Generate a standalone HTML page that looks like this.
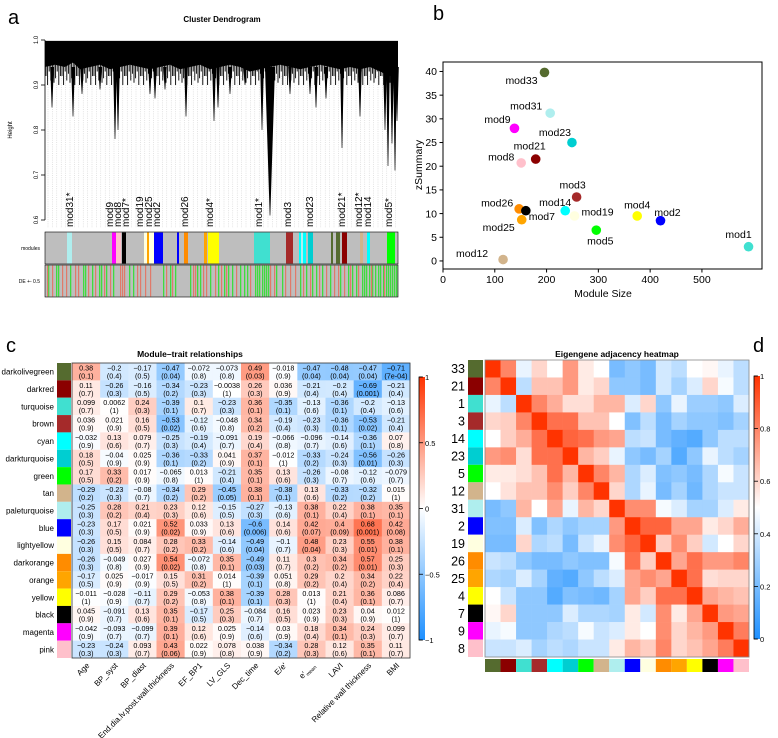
<!DOCTYPE html>
<html><head><meta charset="utf-8"><style>
body{margin:0;background:#fff}
svg{display:block;font-family:"Liberation Sans","DejaVu Sans",sans-serif}
</style></head><body>
<svg id="fig" width="778" height="738" viewBox="0 0 778 738" xmlns="http://www.w3.org/2000/svg">
<rect width="778" height="738" fill="#fff"/>
<text x="8" y="24" font-size="20">a</text>
<text x="433" y="20" font-size="20">b</text>
<text x="6" y="352" font-size="20">c</text>
<text x="753" y="352" font-size="20">d</text>
<g id="pa"></g>
<g id="pb"></g>
<g id="pc"></g>
<g id="pd"></g>
</svg>
<script>
// ---------- Panel b data ----------
const modNames=["mod33","mod31","mod9","mod23","mod21","mod8","mod3","mod26","mod7","mod14","mod19","mod4","mod2","mod25","mod5","mod1","mod12"];
const modSizes=[196,207,138,249,179,151,258,147,160,236,254,375,420,152,296,590,116];
const zSummary=[39.8,31.2,28,25,21.5,20.7,13.5,11,10.6,10.6,9.5,9.5,8.5,8.7,6.5,3,0.3];
const modColors=["#556B2F","#AFEEEE","#FF00FF","#00CED1","#8B0000","#FFC0CB","#A52A2A","#FF8C00","#000000","#00FFFF","#FFFFE0","#FFFF00","#0000FF","#FFA500","#00FF00","#40E0D0","#D2B48C"];
const xTicksB=[0,100,200,300,400,500];
const yTicksB=[0,5,10,15,20,25,30,35,40];
// ---------- Panel c data ----------
const cRows=["darkolivegreen","darkred","turquoise","brown","cyan","darkturquoise","green","tan","paleturquoise","blue","lightyellow","darkorange","orange","yellow","black","magenta","pink"];
const cRowColors=["#556B2F","#8B0000","#40E0D0","#A52A2A","#00FFFF","#00CED1","#00FF00","#D2B48C","#AFEEEE","#0000FF","#FFFFE0","#FF8C00","#FFA500","#FFFF00","#000000","#FF00FF","#FFC0CB"];
const traits=["Age","BP_syst","BP_diast","End.dia.lv.post.wall.thickness","EF_BP1","LV_GLS","Dec_time","E/e'","e'mean","LAVI","Relative wall thickness","BMI"];
const corVals=[
[0.38,-0.2,-0.17,-0.47,-0.072,-0.073,0.49,-0.018,-0.47,-0.48,-0.47,-0.71],
[0.11,-0.26,-0.16,-0.34,-0.23,-0.0038,0.26,0.036,-0.21,-0.2,-0.69,-0.21],
[0.099,0.0062,0.24,-0.39,0.1,-0.23,0.36,-0.35,-0.13,-0.36,-0.2,-0.13],
[0.036,0.021,0.16,-0.53,-0.12,-0.048,0.34,-0.19,-0.23,-0.36,-0.53,-0.21],
[-0.032,0.13,0.079,-0.25,-0.19,-0.091,0.19,-0.066,-0.096,-0.14,-0.36,0.07],
[0.18,-0.04,0.025,-0.36,-0.33,0.041,0.37,-0.012,-0.33,-0.24,-0.56,-0.26],
[0.17,0.33,0.017,-0.065,0.013,-0.21,0.35,0.13,-0.26,-0.08,-0.12,-0.079],
[-0.29,-0.23,-0.08,-0.34,0.29,-0.45,0.38,-0.38,0.13,-0.33,-0.32,0.015],
[-0.25,0.28,0.21,0.23,0.12,-0.15,-0.27,-0.13,0.38,0.22,0.38,0.35],
[-0.23,0.17,0.021,0.52,0.033,0.13,-0.6,0.14,0.42,0.4,0.68,0.42],
[-0.26,0.15,0.084,0.28,0.33,-0.14,-0.49,-0.1,0.48,0.23,0.55,0.38],
[-0.26,-0.049,0.027,0.54,-0.072,0.35,-0.49,0.11,0.3,0.34,0.57,0.25],
[-0.17,0.025,-0.017,0.15,0.31,0.014,-0.39,0.051,0.29,0.2,0.34,0.22],
[-0.011,-0.028,-0.11,0.29,-0.053,0.38,-0.39,0.28,0.013,0.21,0.36,0.086],
[0.045,-0.091,0.13,0.35,-0.17,0.25,-0.084,0.16,0.023,0.23,0.04,0.012],
[-0.042,-0.093,-0.099,0.39,0.12,0.025,-0.14,0.03,0.18,0.34,0.24,0.099],
[-0.23,-0.24,0.093,0.43,0.022,0.078,0.038,-0.34,0.28,0.12,0.35,0.11]];
const pVals=[
["0.1","0.4","0.5","0.04","0.8","0.8","0.03","0.9","0.04","0.04","0.04","7e-04"],
["0.7","0.3","0.5","0.2","0.3","1","0.3","0.9","0.4","0.4","0.001","0.4"],
["0.7","1","0.3","0.1","0.7","0.3","0.1","0.1","0.6","0.1","0.4","0.6"],
["0.9","0.9","0.5","0.02","0.6","0.8","0.2","0.4","0.3","0.1","0.02","0.4"],
["0.9","0.6","0.7","0.3","0.4","0.7","0.4","0.8","0.7","0.6","0.1","0.8"],
["0.5","0.9","0.9","0.1","0.2","0.9","0.1","1","0.2","0.3","0.01","0.3"],
["0.5","0.2","0.9","0.8","1","0.4","0.1","0.6","0.3","0.7","0.6","0.7"],
["0.2","0.3","0.7","0.2","0.2","0.05","0.1","0.1","0.6","0.2","0.2","1"],
["0.3","0.2","0.4","0.3","0.6","0.5","0.3","0.6","0.1","0.4","0.1","0.1"],
["0.3","0.5","0.9","0.02","0.9","0.6","0.006","0.6","0.07","0.09","0.001","0.08"],
["0.3","0.5","0.7","0.2","0.2","0.6","0.04","0.7","0.04","0.3","0.01","0.1"],
["0.3","0.8","0.9","0.02","0.8","0.1","0.03","0.7","0.2","0.2","0.01","0.3"],
["0.5","0.9","0.9","0.5","0.2","1","0.1","0.8","0.2","0.4","0.2","0.4"],
["1","0.9","0.7","0.2","0.8","0.1","0.1","0.3","1","0.4","0.1","0.7"],
["0.9","0.7","0.6","0.1","0.5","0.3","0.7","0.5","0.9","0.3","0.9","1"],
["0.9","0.7","0.7","0.1","0.6","0.9","0.6","0.9","0.4","0.1","0.3","0.7"],
["0.3","0.3","0.7","0.06","0.9","0.8","0.9","0.2","0.3","0.6","0.1","0.7"]];
const cbTicksC=[1,0.5,0,-0.5,-1];
// ---------- Panel d data ----------
const dLabels=["33","21","1","3","14","23","5","12","31","2","19","26","25","4","7","9","8"];
const dColors=["#556B2F","#8B0000","#40E0D0","#A52A2A","#00FFFF","#00CED1","#00FF00","#D2B48C","#AFEEEE","#0000FF","#FFFFE0","#FF8C00","#FFA500","#FFFF00","#000000","#FF00FF","#FFC0CB"];
const adj=[
[1,0.8,0.45,0.6,0.5,0.75,0.55,0.5,0.2,0.25,0.2,0.4,0.35,0.5,0.52,0.45,0.35],
[0.8,1,0.35,0.65,0.65,0.75,0.55,0.6,0.25,0.25,0.2,0.4,0.3,0.42,0.6,0.48,0.35],
[0.45,0.35,1,0.8,0.7,0.58,0.58,0.68,0.68,0.42,0.6,0.25,0.45,0.28,0.28,0.25,0.42],
[0.6,0.62,0.8,1,0.85,0.85,0.65,0.65,0.5,0.22,0.35,0.2,0.3,0.25,0.25,0.22,0.3],
[0.5,0.62,0.7,0.85,1,0.88,0.85,0.75,0.72,0.35,0.38,0.2,0.15,0.12,0.25,0.35,0.35],
[0.75,0.78,0.58,0.85,0.85,1,0.68,0.62,0.45,0.25,0.2,0.3,0.12,0.25,0.45,0.35,0.3],
[0.55,0.55,0.58,0.65,0.85,0.68,1,0.8,0.68,0.32,0.42,0.22,0.25,0.2,0.32,0.48,0.38],
[0.5,0.57,0.65,0.65,0.78,0.62,0.8,1,0.6,0.32,0.45,0.2,0.3,0.18,0.32,0.38,0.38],
[0.2,0.25,0.68,0.5,0.72,0.45,0.68,0.6,1,0.78,0.78,0.48,0.42,0.3,0.3,0.42,0.55],
[0.22,0.22,0.42,0.22,0.32,0.25,0.3,0.3,0.75,1,0.88,0.88,0.72,0.72,0.55,0.6,0.7],
[0.2,0.2,0.6,0.32,0.35,0.2,0.38,0.45,0.78,0.88,1,0.62,0.78,0.62,0.4,0.5,0.6],
[0.38,0.35,0.25,0.2,0.2,0.25,0.22,0.22,0.48,0.85,0.62,1,0.72,0.85,0.75,0.75,0.8],
[0.32,0.3,0.42,0.3,0.15,0.12,0.25,0.35,0.42,0.72,0.78,0.72,1,0.85,0.58,0.6,0.6],
[0.5,0.38,0.25,0.25,0.12,0.22,0.2,0.18,0.3,0.72,0.62,0.85,0.85,1,0.72,0.68,0.65],
[0.52,0.6,0.25,0.25,0.25,0.42,0.32,0.32,0.3,0.55,0.4,0.78,0.55,0.72,1,0.75,0.72],
[0.45,0.48,0.25,0.25,0.32,0.35,0.48,0.38,0.42,0.55,0.5,0.78,0.6,0.68,0.75,1,0.82],
[0.38,0.38,0.42,0.3,0.35,0.32,0.38,0.38,0.55,0.68,0.62,0.8,0.6,0.65,0.72,0.82,1]];
const cbTicksD=[0,0.2,0.4,0.6,0.8,1];
// ---------- Panel a data ----------
const dendroX=[45,55,65,73,80,90,100,110,120,130,140,150,160,170,180,190,200,210,220,230,240,250,260,270,280,290,300,310,320,330,340,350,360,370,380,390,398];
const dendroH=[0.94,0.945,0.94,0.95,0.935,0.94,0.945,0.935,0.94,0.945,0.94,0.935,0.94,0.945,0.935,0.94,0.945,0.935,0.94,0.945,0.94,0.93,0.935,0.94,0.945,0.94,0.935,0.94,0.945,0.94,0.935,0.94,0.935,0.94,0.93,0.92,0.92];
const hairH=[0.92,0.9,0.93,0.91,0.925,0.905,0.915,0.93,0.9,0.92];
const spikeX=[52,73,82,100,115,118,150,155,165,186,214,218,230,245,262,270,272,290,310,316,326,342,360,385,388,392,395,397];
const spikeH=[0.85,0.83,0.88,0.89,0.78,0.8,0.88,0.87,0.89,0.83,0.82,0.85,0.88,0.9,0.8,0.61,0.81,0.88,0.88,0.85,0.87,0.76,0.83,0.8,0.72,0.77,0.71,0.82];
const hTicks=[1.0,0.9,0.8,0.7,0.6];
const modLabelText=["mod31*","mod9","mod8","mod7*","mod19","mod25","mod2","mod26","mod4*","mod1*","mod3","mod23","mod21*","mod12*","mod14","mod5*"];
const modLabelX=[70,110,118,126,140,149,157,185,210,259,288,310,342,359,368,389];
const stripeX0=[67,112,116,122,144,147,149,154,177,184,204,208,254,286,299,301,303,308,331,336,342,360,367,387];
const stripeX1=[72,116,121,126,147,149,154,163,179,188,207,219,270,293,301,303,306,313,333,340,347,363,370,395];
const stripeCol=["#AFEEEE","#FF00FF","#FFC0CB","#000000","#FFFFE0","#FFA500","#FFFFE0","#0000FF","#0000FF","#FF8C00","#FFA500","#FFFF00","#40E0D0","#A52A2A","#00FFFF","#AFEEEE","#00FFFF","#00CED1","#556B2F","#556B2F","#8B0000","#D2B48C","#00FFFF","#00FF00"];
const deGreen=[48,56,58,70,83,85,92,99,101,106,113,129,133,163,170,175,190,197,200,210,218,224,228,232,240,244,247,255,257,259,262,264,266,268,276,282,300,306,312,316,322,330,340,348,352,356,362,364,366,369,372,375,378,380,383,386,388,390,392,394,396];
const deRed=[47,52,62,66,75,78,88,95,104,110,120,122,124,137,140,145,150,166,172,193,195,203,206,215,221,226,236,250,270,274,285,290,295,303,310,319,326,334,338,344,350,358,371,384];

const NS="http://www.w3.org/2000/svg";
function mk(parent,tag,attrs,text){const e=document.createElementNS(NS,tag);for(const k in attrs)e.setAttribute(k,attrs[k]);if(text!==undefined)e.textContent=text;parent.appendChild(e);return e;}
function bwr(t){
  t=Math.max(0,Math.min(1,t));
  if(t<0.5){const f=(0.5-t)/0.5;return `rgb(${Math.round(255-f*(255-30))},${Math.round(255-f*(255-144))},255)`;}
  const f=(t-0.5)/0.5;return `rgb(255,${Math.round(255-f*(255-51))},${Math.round(255-f*255)})`;
}

// ---------- Panel a ----------
(function(){
  const g=document.getElementById('pa');
  const yH=h=>40+(1-h)/0.4*180;
  let t=mk(g,'text',{x:222,y:22,'font-size':8,'font-weight':'bold','text-anchor':'middle'},'Cluster Dendrogram');
  
  mk(g,'line',{x1:45,y1:yH(1),x2:45,y2:yH(0.6),stroke:'#000','stroke-width':0.8});
  hTicks.forEach(h=>{
    mk(g,'line',{x1:41,x2:45,y1:yH(h),y2:yH(h),stroke:'#000','stroke-width':0.8});
    const tx=mk(g,'text',{x:0,y:0,'font-size':6,'text-anchor':'middle',transform:`translate(38,${yH(h)}) rotate(-90)`},h.toFixed(1));
    
  });
  t=mk(g,'text',{x:0,y:0,'font-size':6,'text-anchor':'middle',transform:'translate(12,130) rotate(-90)'},'Height');
  
  for(let x=48;x<398;x+=4.4){mk(g,'line',{x1:x,x2:x,y1:yH(0.92),y2:228,stroke:'#b0b0b0','stroke-width':0.35,'stroke-dasharray':'1,1.2'});}
  let d=`M45,${yH(0.998)} L398,${yH(0.998)}`;
  for(let i=dendroX.length-1;i>=0;i--)d+=` L${dendroX[i]},${yH(dendroH[i])}`;
  d+='Z';
  const p=mk(g,'path',{d:d,fill:'#000'});
  
  let k=0;
  for(let x=46;x<397;x+=1.6){const h=hairH[k%hairH.length];k++;
    mk(g,'line',{x1:x,x2:x,y1:yH(0.95),y2:yH(h),stroke:'#000','stroke-width':0.9});}
  spikeX.forEach((x,i)=>{const w=spikeH[i]<0.7?5:1.8;
    const s=mk(g,'path',{d:`M${x-w},${yH(0.94)} L${x+w},${yH(0.94)} L${x+0.3},${yH(spikeH[i])} L${x-0.3},${yH(spikeH[i])}Z`,fill:'#000'});
    });
  modLabelText.forEach((s,i)=>{
    const tx=mk(g,'text',{x:0,y:0,'font-size':10,transform:`translate(${modLabelX[i]+3},227) rotate(-90)`},s);
    
  });
  const mb=mk(g,'rect',{x:45,y:232,width:353,height:32,fill:'#bebebe',stroke:'#000','stroke-width':0.6});
  
  stripeX0.forEach((x,i)=>{mk(g,'rect',{x:x,y:232.5,width:stripeX1[i]-x,height:31,fill:stripeCol[i]});});
  const db=mk(g,'rect',{x:45,y:265,width:353,height:32,fill:'#bebebe',stroke:'#000','stroke-width':0.6});
  
  deGreen.forEach(x=>mk(g,'rect',{x:x,y:265.5,width:1.3,height:31,fill:'#3fdc3f'}));
  deRed.forEach(x=>mk(g,'rect',{x:x,y:265.5,width:1.2,height:31,fill:'#e07a6a'}));
  t=mk(g,'text',{x:40,y:250,'font-size':5,'text-anchor':'end'},'modules');
  t=mk(g,'text',{x:40,y:283,'font-size':5,'text-anchor':'end'},'DE +- 0.5');
})();

// ---------- Panel b ----------
(function(){
  const g=document.getElementById('pb');
  const L=443,R=762,T=62,B=269,xmin=0,xmax=616,ymin=-1.7,ymax=42;
  const X=v=>L+(v-xmin)/(xmax-xmin)*(R-L), Y=v=>B-(v-ymin)/(ymax-ymin)*(B-T);
  const fr=mk(g,'rect',{x:L,y:T,width:R-L,height:B-T,fill:'none',stroke:'#000','stroke-width':1});
  
  xTicksB.forEach(v=>{mk(g,'line',{x1:X(v),x2:X(v),y1:B,y2:B+3.5,stroke:'#000'});
    const t=mk(g,'text',{x:X(v),y:B+14,'font-size':10.5,'text-anchor':'middle'},v);});
  yTicksB.forEach(v=>{mk(g,'line',{x1:L-3.5,x2:L,y1:Y(v),y2:Y(v),stroke:'#000'});
    const t=mk(g,'text',{x:L-6,y:Y(v)+3.7,'font-size':10.5,'text-anchor':'end'},v);});
  let t=mk(g,'text',{x:603,y:297,'font-size':10.5,'text-anchor':'middle'},'Module Size');
  t=mk(g,'text',{x:0,y:0,'font-size':10.5,'text-anchor':'middle',transform:'translate(422,165) rotate(-90)'},'zSummary');
  const off=[[-23,8],[-24,-7],[-17,-9],[-17,-10],[-6,-13],[-20,-6],[-4,-12],[-22,-6],[16,6],[-10,-8],[23,-4],[0,-11],[7,-8],[-23,8],[4,11],[-10,-12],[-31,-6]];
  modNames.forEach((n,i)=>{
    const cx=X(modSizes[i]),cy=Y(zSummary[i]);
    const c=mk(g,'circle',{cx:cx,cy:cy,r:4.8,fill:modColors[i]});
    
    const tx=mk(g,'text',{x:cx+off[i][0],y:cy+off[i][1]+3.5,'font-size':10.5,'text-anchor':'middle'},n);
    
  });
})();

// ---------- Panel c ----------
(function(){
  const g=document.getElementById('pc');
  const L=72,R=410,T=363,B=658,nr=cRows.length,nc=traits.length;
  const cw=(R-L)/nc,rh=(B-T)/nr;
  let t=mk(g,'text',{x:190,y:357,'font-size':8.5,'font-weight':'bold','text-anchor':'middle'},'Module\u2013trait relationships');
  
  cRows.forEach((r,i)=>{
    const y=T+i*rh;
    const sw=mk(g,'rect',{x:57,y:y,width:14,height:rh,fill:cRowColors[i]});
    const lb=mk(g,'text',{x:54,y:y+rh/2+3,'font-size':8,'text-anchor':'end'},r);
    traits.forEach((tr,j)=>{
      const x=L+j*cw,v=corVals[i][j];
      const c=mk(g,'rect',{x:x,y:y,width:cw+0.3,height:rh+0.3,fill:bwr((v+1)/2)});
      
      const s=String(v).replace('-','\u2212');
      const a=mk(g,'text',{x:x+cw/2,y:y+7.5,'font-size':7.2,'text-anchor':'middle'},s);
      const b=mk(g,'text',{x:x+cw/2,y:y+15.5,'font-size':7.2,'text-anchor':'middle'},'('+pVals[i][j]+')');
    });
  });
  mk(g,'rect',{x:L,y:T,width:R-L,height:B-T,fill:'none',stroke:'#333','stroke-width':0.8});
  traits.forEach((tr,j)=>{
    const x=L+j*cw+cw/2+4;
    const tx=mk(g,'text',{x:0,y:0,'font-size':8,'text-anchor':'end',transform:`translate(${x},666) rotate(-45)`});
    if(tr==="e'mean"){tx.textContent="e'";mk(tx,'tspan',{'font-size':5,dy:2},'mean');}else tx.textContent=tr;
    
  });
  const cT=377,cB=640,cx=419;
  const defs=mk(g,'defs',{});const lg=mk(defs,'linearGradient',{id:'gc',x1:0,y1:1,x2:0,y2:0});
  [0,0.5,1].forEach(o=>mk(lg,'stop',{offset:o,'stop-color':bwr(o)}));
  const cb=mk(g,'rect',{x:cx,y:cT,width:6,height:cB-cT,fill:'url(#gc)'});
  mk(g,'path',{d:`M${cx+3},${cT} H${cx} V${cB} H${cx+3}`,fill:'none',stroke:'#000','stroke-width':0.8});
  cbTicksC.forEach(v=>{const y=cB-(v+1)/2*(cB-cT);mk(g,'line',{x1:cx,x2:cx+4,y1:y,y2:y,stroke:'#000','stroke-width':0.8});
    const t=mk(g,'text',{x:cx+6,y:y+3,'font-size':7.5},String(v).replace('-','\u2212'));});
})();

// ---------- Panel d ----------
(function(){
  const g=document.getElementById('pd');
  const L=485,R=749,T=360,B=657,n=dLabels.length,cw=(R-L)/n,rh=(B-T)/n;
  let t=mk(g,'text',{x:617,y:357,'font-size':8.5,'font-weight':'bold','text-anchor':'middle'},'Eigengene adjacency heatmap');
  
  dLabels.forEach((lab,i)=>{
    const y=T+i*rh;
    const sw=mk(g,'rect',{x:468,y:y,width:15,height:rh,fill:dColors[i]});
    const lb=mk(g,'text',{x:465,y:y+rh/2+4.5,'font-size':12.5,'text-anchor':'end'},lab);
    const cs=mk(g,'rect',{x:L+i*cw,y:659,width:cw,height:13,fill:dColors[i]});
    dLabels.forEach((l2,j)=>{
      const c=mk(g,'rect',{x:L+j*cw,y:y,width:cw+0.3,height:rh+0.3,fill:bwr(adj[i][j])});
      
    });
  });
  mk(g,'rect',{x:L,y:T,width:R-L,height:B-T,fill:'none',stroke:'#888','stroke-width':0.8});
  const cT=376,cB=639,cx=754;
  const defs=mk(g,'defs',{});const lg=mk(defs,'linearGradient',{id:'gd',x1:0,y1:1,x2:0,y2:0});
  [0,0.5,1].forEach(o=>mk(lg,'stop',{offset:o,'stop-color':bwr(o)}));
  const cb=mk(g,'rect',{x:cx,y:cT,width:6,height:cB-cT,fill:'url(#gd)'});
  mk(g,'path',{d:`M${cx+3},${cT} H${cx} V${cB} H${cx+3}`,fill:'none',stroke:'#000','stroke-width':0.8});
  cbTicksD.forEach(v=>{const y=cB-v*(cB-cT);mk(g,'line',{x1:cx,x2:cx+4,y1:y,y2:y,stroke:'#000','stroke-width':0.8});
    const t=mk(g,'text',{x:cx+6,y:y+3,'font-size':7.5},v);});
})();
</script>
</body></html>
